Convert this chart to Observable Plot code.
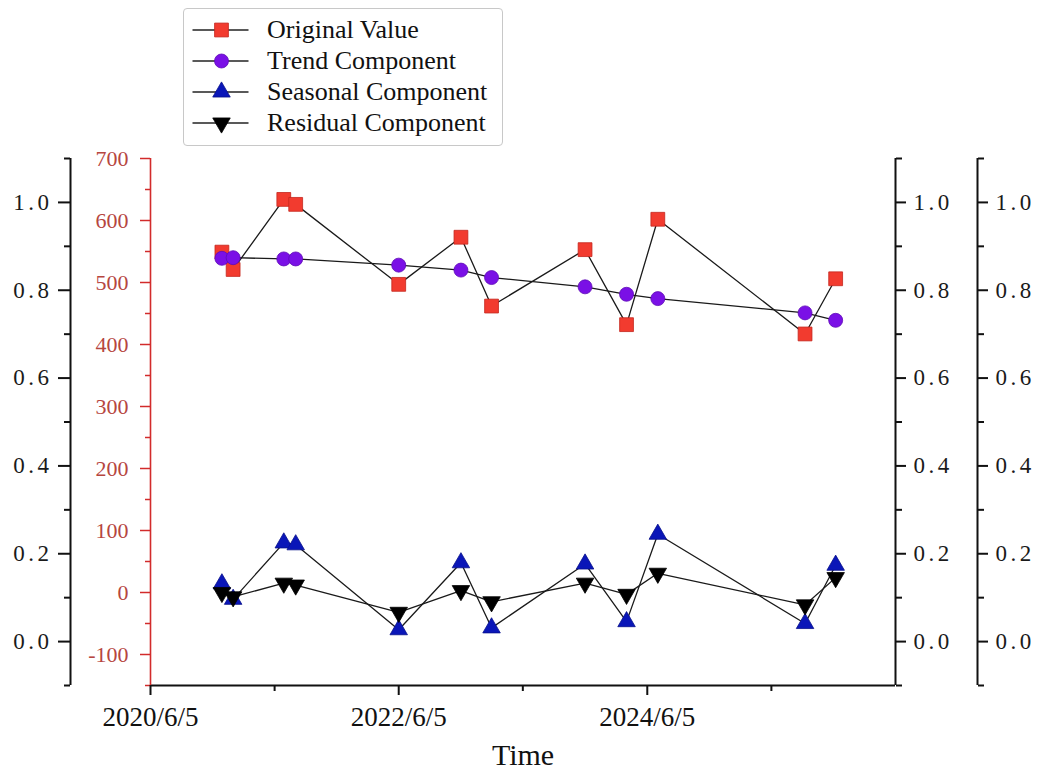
<!DOCTYPE html>
<html><head><meta charset="utf-8">
<script src="https://cdn.jsdelivr.net/npm/d3@7"></script>
<script src="https://cdn.jsdelivr.net/npm/@observablehq/plot@0.6"></script>
<style>
body{margin:0;background:#fff;font-family:"Liberation Serif",serif;}
#top{position:relative;height:120px;width:1038px;z-index:2;}
#legend{position:absolute;left:183px;top:8px;width:320px;height:138px;border:1.5px solid #c8c8c8;border-radius:4px;background:#fff;box-sizing:border-box;z-index:2;}
.row{position:absolute;left:0;width:316px;height:30px;}
.row svg{position:absolute;left:0;top:0;}
.row span{position:absolute;left:83px;top:0;line-height:30px;font-size:26px;color:#111;white-space:nowrap;}
#chart{position:relative;z-index:1;}
#chart svg{display:block;}
</style></head><body>
<div id="top"><div id="legend"></div></div>
<div id="chart"></div>
<script>
// ---- data ----
const dates = ["2021-01-01","2021-02-03","2021-07-02","2021-08-06","2022-06-05","2022-12-05","2023-03-05","2023-12-05","2024-04-05","2024-07-06","2025-09-12","2025-12-11"];
const originalValue = [549,521,634,626,497,573,462,553,432,602,417,506];
const trendComponent = [539,540,538,538,528,520,508,493,481,474,451,439];
const seasonalComponent = [14,-11,80,77,-60,48,-57,46,-47,94,-50,44];
const residualComponent = [0,-7,15,12,-32,3,-15,15,-3,31,-20,24];
const seriesNames = ["Original Value","Trend Component","Seasonal Component","Residual Component"];
const xTickLabels = ["2020/6/5","2022/6/5","2024/6/5"];
const xMinorTickLabels = ["2021/6/5","2023/6/5","2025/6/5"];
const xDomainLabels = ["2020/6/5","2026/6/5"];
const yDomain = [-150, 700];
const yTicks = [-100,0,100,200,300,400,500,600,700];
const yMinorTicks = [-150,-50,50,150,250,350,450,550,650];
const auxDomain = [-0.1, 1.1];
const auxTicks = [0,0.2,0.4,0.6,0.8,1.0];
const auxMinorTicks = [-0.1,0.1,0.3,0.5,0.7,0.9,1.1];

// ---- helpers ----
const parseISO = d3.utcParse("%Y-%m-%d");
const parseTick = d3.utcParse("%Y/%m/%d");
const fmtTick = d3.utcFormat("%Y/%-m/%-d");
const rows = dates.map((d, i) => ({
  date: parseISO(d),
  original: originalValue[i],
  trend: trendComponent[i],
  seasonal: seasonalComponent[i],
  residual: residualComponent[i]
}));
const sqrt3 = Math.sqrt(3);
const triangleDown = {
  draw(context, size) {
    const y = -Math.sqrt(size / (sqrt3 * 3));
    context.moveTo(0, -y * 2);
    context.lineTo(-sqrt3 * y, y);
    context.lineTo(sqrt3 * y, y);
    context.closePath();
  }
};
const aux = d3.scaleLinear().domain(auxDomain).range(yDomain);

const RED_AXIS = "#d22b2b", RED_TEXT = "#b6463f", INK = "#111";
const styles = [
  {key: "original", symbol: "square", d3sym: d3.symbolSquare, r: 7.8, fill: "#f23b2f", stroke: "#c4261d"},
  {key: "trend", symbol: "circle", d3sym: d3.symbolCircle, r: 7, fill: "#7a10e6", stroke: "#5e0bb5"},
  {key: "seasonal", symbol: "triangle", d3sym: d3.symbolTriangle, r: 6.5, fill: "#0a16b8", stroke: "#07108a"},
  {key: "residual", symbol: triangleDown, d3sym: triangleDown, r: 6.5, fill: "#000", stroke: "#000"}
];

// ---- legend ----
const legend = d3.select("#legend");
seriesNames.forEach((name, i) => {
  const s = styles[i];
  const row = legend.append("div").attr("class", "row").style("top", (6 + 31 * i) + "px");
  const svg = row.append("svg").attr("width", 80).attr("height", 30);
  svg.append("line").attr("x1", 8.5).attr("x2", 64.5).attr("y1", 15).attr("y2", 15)
    .attr("stroke", "#222").attr("stroke-width", 1.4);
  svg.append("path").attr("transform", "translate(37.5,15)")
    .attr("d", d3.symbol(s.d3sym, Math.PI * s.r * s.r)())
    .attr("fill", s.fill).attr("stroke", s.stroke).attr("stroke-width", 0.8);
  row.append("span").text(name);
});

// ---- chart ----
const x0 = parseTick(xDomainLabels[0]), x1 = parseTick(xDomainLabels[1]);
const marks = [];
// axis lines
marks.push(Plot.ruleX([x0], {stroke: INK, strokeWidth: 2, dx: -80}));
marks.push(Plot.ruleX([x1], {stroke: INK, strokeWidth: 2}));
marks.push(Plot.ruleX([x1], {stroke: INK, strokeWidth: 2, dx: 82}));
marks.push(Plot.ruleY([yDomain[0]], {stroke: INK, strokeWidth: 2}));
marks.push(Plot.ruleX([x0], {stroke: RED_AXIS, strokeWidth: 1.6}));
// red primary y axis
marks.push(Plot.axisY({ticks: yTicks, tickSize: 10, tickPadding: 12, stroke: RED_AXIS, fill: RED_TEXT, strokeWidth: 1.5, tickFormat: d => String(d), label: null, fontSize: 22}));
marks.push(Plot.axisY({ticks: yMinorTicks, tickSize: 5, stroke: RED_AXIS, strokeWidth: 1.5, tickFormat: () => "", label: null}));
// auxiliary black axes (0.0 - 1.0)
const auxFmt = d => aux.invert(d).toFixed(1);
[{anchor: "left", dx: -80, tickPadding: 6}, {anchor: "right", dx: 0, tickPadding: 8}, {anchor: "right", dx: 82, tickPadding: 8}].forEach(o => {
  marks.push(Plot.axisY({anchor: o.anchor, dx: o.dx, ticks: auxTicks.map(aux), tickSize: o.anchor === "left" ? 12 : 10, tickPadding: o.tickPadding, tickFormat: auxFmt, stroke: INK, fill: "#1a1a1a", strokeWidth: 2, label: null, fontSize: 23}));
  marks.push(Plot.axisY({anchor: o.anchor, dx: o.dx, ticks: auxMinorTicks.map(aux), tickSize: 6, tickFormat: () => "", stroke: INK, strokeWidth: 2, label: null}));
});
// x axis
marks.push(Plot.axisX({ticks: xTickLabels.map(parseTick), tickFormat: fmtTick, tickSize: 10, tickPadding: 11, stroke: INK, fill: INK, strokeWidth: 2, label: null, fontSize: 27}));
marks.push(Plot.axisX({ticks: xMinorTickLabels.map(parseTick), tickFormat: () => "", tickSize: 6, stroke: INK, strokeWidth: 2, label: null}));
marks.push(Plot.text(["Time"], {frameAnchor: "bottom", dy: 70, fontSize: 30, lineAnchor: "middle", fill: INK}));
// series lines then markers
styles.forEach(s => {
  marks.push(Plot.line(rows, {x: "date", y: s.key, stroke: "#1a1a1a", strokeWidth: 1.3}));
});
styles.forEach(s => {
  marks.push(Plot.dot(rows, {x: "date", y: s.key, symbol: s.symbol, r: s.r, fill: s.fill, stroke: s.stroke, strokeWidth: 0.8}));
});

const chart = Plot.plot({
  width: 1038,
  height: 650,
  marginLeft: 150,
  marginRight: 143,
  marginTop: 38,
  marginBottom: 85,
  style: {fontFamily: "'Liberation Serif', serif", fontSize: "22px", background: "transparent", color: INK, overflow: "visible"},
  x: {type: "utc", domain: [x0, x1]},
  y: {domain: yDomain},
  marks
});
document.getElementById("chart").append(chart);
// widen the auxiliary 0.0–1.0 labels like the reference's spaced digits
d3.select(chart).selectAll('g[aria-label="y-axis tick label"]')
  .filter(function() { return this.getAttribute("fill") === "#1a1a1a"; })
  .selectAll("text").style("letter-spacing", "3.5px");
</script>
</body></html>
